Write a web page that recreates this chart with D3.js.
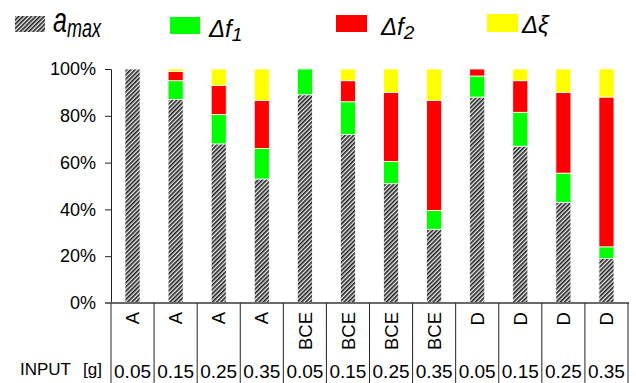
<!DOCTYPE html>
<html>
<head>
<meta charset="utf-8">
<script src="https://cdn.jsdelivr.net/npm/d3@7"></script>
<style>
  html, body { margin: 0; padding: 0; background: #fff; }
  svg { display: block; font-family: "Liberation Sans", Arial, sans-serif; }
</style>
</head>
<body>
<svg id="chart" width="636" height="383"></svg>
<script>
// Sample groups and input masses, one entry per column
const groups = ["A", "A", "A", "A", "BCE", "BCE", "BCE", "BCE", "D", "D", "D", "D"];
const inputs = ["0.05", "0.15", "0.25", "0.35", "0.05", "0.15", "0.25", "0.35", "0.05", "0.15", "0.25", "0.35"];

// Share of each component, in percent (stacked bottom to top)
const aMax = [100, 87, 68, 53, 89, 72, 51, 31.5, 88, 67, 43, 19];
const dF1  = [0, 8, 12.5, 13, 11, 14, 9.5, 8, 9, 14.5, 12.5, 5];
const dF2  = [0, 4, 12.5, 20.5, 0, 9, 29.5, 47, 3, 13.5, 34.5, 64];
const dXi  = [0, 1, 7, 13.5, 0, 5, 10, 13.5, 0, 5, 10, 12];

const yTicks = [0, 20, 40, 60, 80, 100];

const seriesKeys = ["aMax", "dF1", "dF2", "dXi"];
const seriesFill = { aMax: "url(#hatch)", dF1: "#00ff00", dF2: "#ff0000", dXi: "#ffff00" };

const rows = groups.map((g, i) => ({
  idx: i, aMax: aMax[i], dF1: dF1[i], dF2: dF2[i], dXi: dXi[i]
}));

const svg = d3.select("#chart");

// diagonal hatch used for a_max
const defs = svg.append("defs");
const pat = defs.append("pattern")
  .attr("id", "hatch")
  .attr("patternUnits", "userSpaceOnUse")
  .attr("width", 3).attr("height", 3)
  .attr("patternTransform", "rotate(45)");
pat.append("rect").attr("width", 3).attr("height", 3).attr("fill", "#ececec");
pat.append("rect").attr("width", 1.6).attr("height", 3).attr("fill", "#1e1e1e");

const x0 = 111, x1 = 628, yTop = 69, yBot = 303;

const x = d3.scaleBand()
  .domain(d3.range(groups.length))
  .range([x0, x1])
  .paddingInner(0.65)
  .paddingOuter(0.325);

const xEdge = d3.scaleLinear().domain([0, groups.length]).range([x0, x1]);

const y = d3.scaleLinear().domain([0, 100]).range([yBot, yTop]);

const stacked = d3.stack().keys(seriesKeys)(rows);

// bars
svg.append("g")
  .selectAll("g")
  .data(stacked)
  .join("g")
  .attr("fill", d => seriesFill[d.key])
  .selectAll("rect")
  .data(d => d.filter(s => s[1] - s[0] > 0))
  .join("rect")
  .attr("x", d => x(d.data.idx))
  .attr("width", x.bandwidth())
  .attr("y", d => y(d[1]))
  .attr("height", d => y(d[0]) - y(d[1]))
  .attr("stroke", "#fff")
  .attr("stroke-width", 0.8);

// y axis
const yAxis = d3.axisLeft(y)
  .tickValues(yTicks)
  .tickFormat(d => d + "%")
  .tickSize(6)
  .tickPadding(9);

const gy = svg.append("g")
  .attr("transform", `translate(${x0},0)`)
  .call(yAxis);
gy.select(".domain").attr("stroke", "#222").attr("stroke-width", 1);
gy.selectAll(".tick line").attr("stroke", "#222");
gy.selectAll(".tick text")
  .attr("font-size", 18)
  .attr("fill", "#000")
  .attr("font-family", "Liberation Sans, Arial, sans-serif");

// table lines under the plot
const table = svg.append("g");
table.append("line")
  .attr("x1", x0 - 6).attr("x2", x1 + 1)
  .attr("y1", yBot).attr("y2", yBot)
  .attr("stroke", "#6a6a6a").attr("stroke-width", 2);

table.selectAll("line.sep")
  .data(d3.range(groups.length + 1))
  .join("line")
  .attr("class", "sep")
  .attr("x1", d => xEdge(d)).attr("x2", d => xEdge(d))
  .attr("y1", yBot).attr("y2", 383)
  .attr("stroke", "#222").attr("stroke-width", 1);

// rotated group labels
table.selectAll("text.grp")
  .data(groups)
  .join("text")
  .attr("class", "grp")
  .attr("transform", (d, i) => `translate(${x(i) + x.bandwidth() / 2},312) rotate(-90)`)
  .attr("text-anchor", "end")
  .attr("dy", "0.36em")
  .attr("font-size", 18.5)
  .text(d => d);

// input values
table.selectAll("text.inp")
  .data(inputs)
  .join("text")
  .attr("class", "inp")
  .attr("x", (d, i) => x(i) + x.bandwidth() / 2)
  .attr("y", 378)
  .attr("text-anchor", "middle")
  .attr("font-size", 19)
  .text(d => d);

table.append("text").attr("x", 20).attr("y", 375).attr("font-size", 17).text("INPUT");
table.append("text").attr("x", 83).attr("y", 375).attr("font-size", 17).text("[g]");

// legend
const leg = svg.append("g").attr("font-style", "italic");

leg.append("rect").attr("x", 15).attr("y", 16).attr("width", 30).attr("height", 16).attr("fill", "url(#hatch)");
const aLab = leg.append("g").attr("transform", "translate(0,32) scale(1,1.4) translate(0,-32)");
aLab.append("text").attr("x", 53).attr("y", 32).attr("font-size", 25).text("a");
aLab.append("text").attr("x", 67).attr("y", 35.5).attr("font-size", 18).text("max");

function deltaLabel(xPos, base, main, sub) {
  const t = leg.append("text").attr("x", xPos).attr("y", base).attr("font-size", 24);
  t.append("tspan").text(main);
  if (sub) t.append("tspan").attr("font-size", 19).attr("dy", 4).text(sub);
}

leg.append("rect").attr("x", 170).attr("y", 17).attr("width", 30).attr("height", 17).attr("fill", "#00ff00");
deltaLabel(209, 37, "\u0394f", "1");

leg.append("rect").attr("x", 336).attr("y", 15).attr("width", 31).attr("height", 17).attr("fill", "#ff0000");
deltaLabel(381, 35, "\u0394f", "2");

leg.append("rect").attr("x", 487).attr("y", 14).attr("width", 31).attr("height", 18).attr("fill", "#ffff00");
deltaLabel(522, 33, "\u0394\u03be", null);
</script>
</body>
</html>
